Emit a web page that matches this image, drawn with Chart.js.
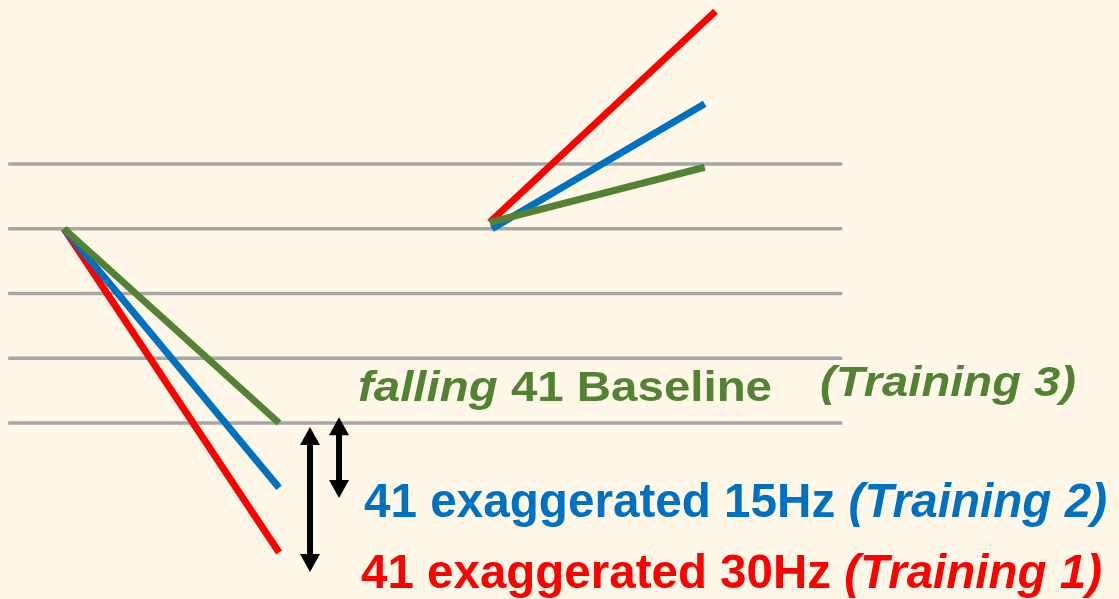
<!DOCTYPE html>
<html>
<head>
<meta charset="utf-8">
<script src="https://cdn.jsdelivr.net/npm/chart.js@4"></script>
<style>
  html, body { margin: 0; padding: 0; background: #FFF8E8; }
  canvas { display: block; }
</style>
</head>
<body>
<canvas id="c" width="1119" height="599"></canvas>
<script>
// ---- data ----
const levels = [0, 1, 2, 3, 4];            // horizontal reference levels
const gridSpan = [-0.26, 3.62];             // time extent of reference lines
const fallTime = [0, 1];
const riseTime30 = [1.98, 3.03];
const riseTime15 = [1.99, 2.98];
const riseTimeBase = [1.98, 2.98];
const fall30Hz = [3, -2];
const fall15Hz = [3, -1];
const fallBaseline = [3, 0];
const rise30Hz = [3.1, 6.36];
const rise15Hz = [3.0, 4.93];
const riseBaseline = [3.1, 3.95];
const arrowX = [1.144, 1.279];
const arrowTop = [-0.06, 0.09];
const arrowBottom = [-2.30, -1.16];

const labelBaseline = [{ t: 'falling', i: true }, { t: ' 41 Baseline', i: false }];
const labelTraining3 = [{ t: '(Training 3)', i: true }];
const label15Hz = [{ t: '41 exaggerated 15Hz ', i: false }, { t: '(Training 2)', i: true }];
const label30Hz = [{ t: '41 exaggerated 30Hz ', i: false }, { t: '(Training 1)', i: true }];

const RED = '#FF0000', BLUE = '#0070C0', GREEN = '#548235', GRAY = '#A6A6A6';

function pts(xs, ys) { return xs.map((x, k) => ({ x: x, y: ys[k] })); }

const datasets = [];
levels.forEach(l => datasets.push({
  data: pts(gridSpan, [l, l]), borderColor: GRAY, borderWidth: 3.5, order: 10
}));
datasets.push({ data: pts(riseTimeBase, riseBaseline), borderColor: GREEN, borderWidth: 7, order: 1 });
datasets.push({ data: pts(fallTime, fallBaseline), borderColor: GREEN, borderWidth: 7, order: 1 });
datasets.push({ data: pts(riseTime15, rise15Hz), borderColor: BLUE, borderWidth: 7, order: 2 });
datasets.push({ data: pts(fallTime, fall15Hz), borderColor: BLUE, borderWidth: 7, order: 2 });
datasets.push({ data: pts(riseTime30, rise30Hz), borderColor: RED, borderWidth: 7, order: 3 });
datasets.push({ data: pts(fallTime, fall30Hz), borderColor: RED, borderWidth: 7, order: 3 });

const bgPlugin = {
  id: 'bg',
  beforeDraw(chart) {
    const ctx = chart.ctx;
    ctx.save();
    ctx.fillStyle = '#FFF8E8';
    ctx.fillRect(0, 0, chart.width, chart.height);
    ctx.restore();
  }
};

const arrowPlugin = {
  id: 'arrows',
  afterDatasetsDraw(chart) {
    const ctx = chart.ctx, xs = chart.scales.x, ys = chart.scales.y;
    const headW = 20, headL = 18, shaft = 6;
    ctx.save();
    ctx.fillStyle = '#000';
    arrowX.forEach((ax, k) => {
      const px = xs.getPixelForValue(ax);
      const top = ys.getPixelForValue(arrowTop[k]);
      const bot = ys.getPixelForValue(arrowBottom[k]);
      ctx.fillRect(px - shaft / 2, top + headL - 1, shaft, bot - top - 2 * headL + 2);
      ctx.beginPath();
      ctx.moveTo(px, top); ctx.lineTo(px + headW / 2, top + headL); ctx.lineTo(px - headW / 2, top + headL);
      ctx.closePath(); ctx.fill();
      ctx.beginPath();
      ctx.moveTo(px, bot); ctx.lineTo(px + headW / 2, bot - headL); ctx.lineTo(px - headW / 2, bot - headL);
      ctx.closePath(); ctx.fill();
    });
    ctx.restore();
  }
};

const labelSpecs = [
  { parts: labelBaseline, color: GREEN, x: 358, y: 401, size: 43, w: 414 },
  { parts: labelTraining3, color: GREEN, x: 820, y: 396, size: 43, w: 256 },
  { parts: label15Hz, color: BLUE, x: 364, y: 517, size: 49, w: 743 },
  { parts: label30Hz, color: RED, x: 361, y: 588, size: 49, w: 741 }
];

const labelPlugin = {
  id: 'labels',
  afterDraw(chart) {
    const ctx = chart.ctx;
    const fam = '"Liberation Sans", Arial, sans-serif';
    labelSpecs.forEach(s => {
      ctx.save();
      ctx.fillStyle = s.color;
      ctx.textBaseline = 'alphabetic';
      let natural = 0;
      s.parts.forEach(p => {
        ctx.font = (p.i ? 'italic ' : '') + 'bold ' + s.size + 'px ' + fam;
        natural += ctx.measureText(p.t).width;
      });
      const sx = s.w / natural;
      ctx.translate(s.x, s.y);
      ctx.scale(sx, 1);
      let cx = 0;
      s.parts.forEach(p => {
        ctx.font = (p.i ? 'italic ' : '') + 'bold ' + s.size + 'px ' + fam;
        ctx.fillText(p.t, cx, 0);
        cx += ctx.measureText(p.t).width;
      });
      ctx.restore();
    });
  }
};

new Chart(document.getElementById('c'), {
  type: 'line',
  data: { datasets: datasets },
  options: {
    responsive: false,
    animation: false,
    events: [],
    layout: { padding: 0 },
    elements: { point: { radius: 0 }, line: { tension: 0, borderCapStyle: 'butt' } },
    datasets: { line: { clip: false, fill: false } },
    scales: {
      x: { type: 'linear', display: false, min: -0.298, max: 4.907 },
      y: { type: 'linear', display: false, min: -2.718, max: 6.533 }
    },
    plugins: { legend: { display: false }, tooltip: { enabled: false }, title: { display: false } }
  },
  plugins: [bgPlugin, arrowPlugin, labelPlugin]
});
</script>
</body>
</html>
